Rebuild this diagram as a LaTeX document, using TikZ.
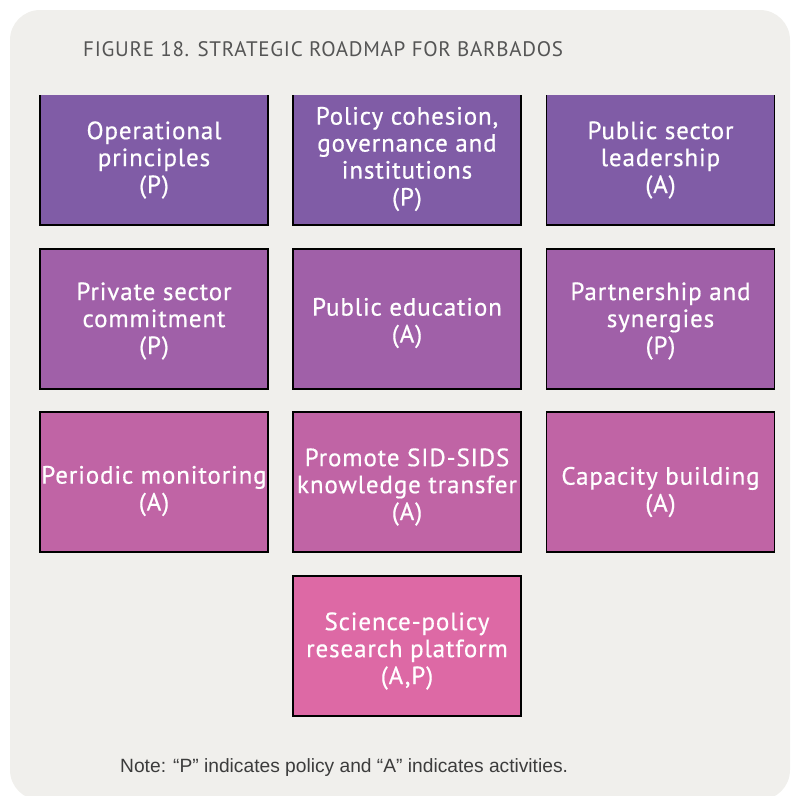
\documentclass[tikz,border=0pt]{standalone}
\usepackage{fontspec}
\setmainfont{PT Sans}
\newfontfamily\boxfont[LetterSpace=3.5,FakeBold=0.6]{PT Sans}
\newfontfamily\titlefont[LetterSpace=3.4]{PT Sans}
\newfontfamily\notefont{Liberation Sans}
\definecolor{bgc}{RGB}{240,239,236}
\definecolor{rowa}{RGB}{128,92,166}
\definecolor{rowb}{RGB}{160,96,168}
\definecolor{rowc}{RGB}{192,100,165}
\definecolor{rowd}{RGB}{221,105,165}
\definecolor{titlec}{RGB}{85,85,85}
\definecolor{notec}{RGB}{60,60,60}
\begin{document}
\begin{tikzpicture}[x=1pt,y=-1pt,
  box/.style={minimum width=228pt, minimum height=140pt, draw=black, line width=1.3pt, inner sep=0pt},
  boxtext/.style={text=white, align=center, inner sep=0pt, font=\boxfont\fontsize{25}{27}\selectfont},
  ttl/.style={anchor=west, text=titlec, font=\titlefont\fontsize{21}{24}\selectfont, inner sep=0pt},
  note/.style={anchor=west, text=notec, font=\notefont\fontsize{19.2}{22}\selectfont, inner sep=0pt}]
\useasboundingbox (0,0) rectangle (792,796);
\begin{scope}
  \clip (0,0) rectangle (792,796);
  \fill[bgc, rounded corners=30pt] (10,10) rectangle (790,800);
\end{scope}
\node[ttl] (title) at (83,49) {FIGURE 18. STRATEGIC ROADMAP FOR BARBADOS};
\begin{scope}
  \clip (0,95) rectangle (792,796);
  \node[box, fill=rowa] (op) at (154,155) {};
  \node[box, fill=rowa] (pc) at (407,155) {};
  \node[box, fill=rowa] (pl) at (660.5,155) {};
  \node[box, fill=rowb] (ps) at (154,319) {};
  \node[box, fill=rowb] (pe) at (407,319) {};
  \node[box, fill=rowb] (pa) at (660.5,319) {};
  \node[box, fill=rowc] (pm) at (154,482) {};
  \node[box, fill=rowc] (kt) at (407,482) {};
  \node[box, fill=rowc] (cb) at (660.5,482) {};
  \node[box, fill=rowd] (sp) at (407,646) {};
\end{scope}
\node[boxtext] (opt) at ([yshift=-5pt]op.center) {Operational\\principles\\(P)};
\node[boxtext] (pct) at ([yshift=-4pt]pc.center) {Policy cohesion,\\governance and\\institutions\\(P)};
\node[boxtext] (plt) at ([yshift=-5pt]pl.center) {Public sector\\leadership\\(A)};
\node[boxtext] (pst) at ([yshift=-2pt]ps.center) {Private sector\\commitment\\(P)};
\node[boxtext] (pet) at ([yshift=-4pt]pe.center) {Public education\\(A)};
\node[boxtext] (pat) at ([yshift=-2pt]pa.center) {Partnership and\\synergies\\(P)};
\node[boxtext] (pmt) at ([yshift=-9pt]pm.center) {Periodic monitoring\\(A)};
\node[boxtext] (ktt) at ([yshift=-5pt]kt.center) {Promote SID-SIDS\\knowledge transfer\\(A)};
\node[boxtext] (cbt) at ([yshift=-10pt]cb.center) {Capacity building\\(A)};
\node[boxtext] (spt) at ([yshift=-5pt]sp.center) {Science-policy\\research platform\\(A,P)};
\node[note] (nt) at (120,768) {Note: “P” indicates policy and “A” indicates activities.};
\end{tikzpicture}
\end{document}
